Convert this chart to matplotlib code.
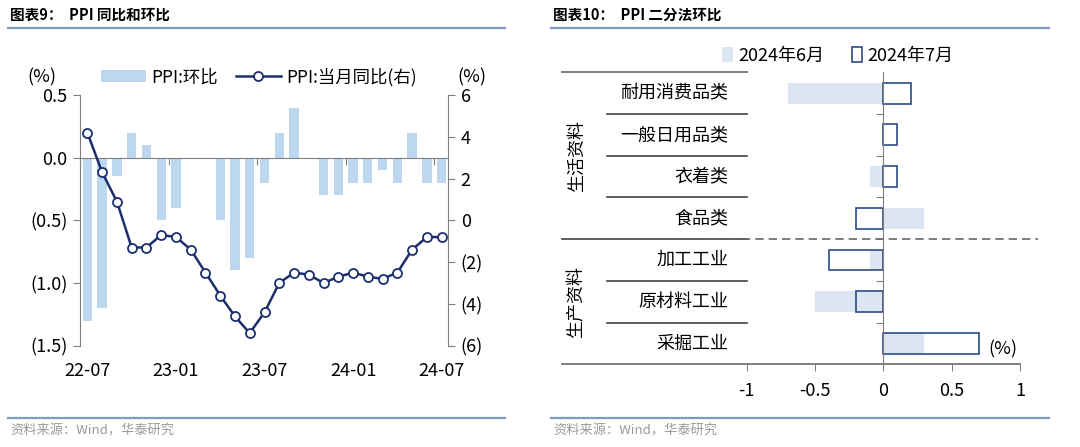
import numpy as np
import matplotlib
matplotlib.use("Agg")
import matplotlib.pyplot as plt
from matplotlib.lines import Line2D
from matplotlib.patches import Patch

plt.rcParams['font.family'] = ['Noto Sans CJK SC', 'DejaVu Sans']

# ---- data: PPI MoM / YoY ----
months = ["22-07", "22-08", "22-09", "22-10", "22-11", "22-12",
          "23-01", "23-02", "23-03", "23-04", "23-05", "23-06",
          "23-07", "23-08", "23-09", "23-10", "23-11", "23-12",
          "24-01", "24-02", "24-03", "24-04", "24-05", "24-06", "24-07"]
ppi_mom = [-1.3, -1.2, -0.15, 0.2, 0.1, -0.5, -0.4, 0.0, 0.0, -0.5, -0.9, -0.8,
           -0.2, 0.2, 0.4, 0.0, -0.3, -0.3, -0.2, -0.2, -0.1, -0.2, 0.2, -0.2, -0.2]
ppi_yoy = [4.2, 2.3, 0.9, -1.3, -1.3, -0.7, -0.8, -1.4, -2.5, -3.6, -4.6, -5.4,
           -4.4, -3.0, -2.5, -2.6, -3.0, -2.7, -2.5, -2.7, -2.8, -2.5, -1.4, -0.8, -0.8]
x_labels = ["22-07", "23-01", "23-07", "24-01", "24-07"]

# ---- data: PPI two-way split MoM ----
cats = ["耐用消费品类", "一般日用品类", "衣着类", "食品类", "加工工业", "原材料工业", "采掘工业"]
jun = [-0.7, 0.0, -0.1, 0.3, -0.1, -0.5, 0.3]
jul = [0.2, 0.1, 0.1, -0.2, -0.4, -0.2, 0.7]
groups = ["生活资料", "生产资料"]

W, H = 1080, 447
fig = plt.figure(figsize=(W / 100, H / 100), dpi=100)

def fx(px):
    return px / W

def fy(py):
    return 1 - py / H

header_col = "#7F9BBE"
bar_col = "#BDD7EE"
line_col = "#1B2F6E"
gray = "#7F7F7F"

# headers / footers
for x0, x1, title in [(8, 505, "图表9：  PPI 同比和环比"), (551, 1049, "图表10：  PPI 二分法环比")]:
    fig.text(fx(x0 + 2), fy(15), title, fontsize=10.5, fontweight="bold", va="center", ha="left")
    fig.add_artist(Line2D([fx(x0), fx(x1)], [fy(28), fy(28)], color=header_col, lw=1.6))
    fig.add_artist(Line2D([fx(x0), fx(x1)], [fy(418), fy(418)], color=header_col, lw=1.6))
    fig.text(fx(x0 + 2), fy(431), "资料来源：Wind，华泰研究", fontsize=9.5, color="#9A9A9A",
             va="center", ha="left")

# ================= left chart =================
ax = fig.add_axes([fx(80), fy(345.7), fx(448.3) - fx(80), fy(95) - fy(345.7)])
x = np.arange(len(months))
ax.bar(x, ppi_mom, width=0.63, color=bar_col, zorder=2, label="PPI:环比")
ax.set_xlim(-0.5, len(months) - 0.55)
ax.set_ylim(-1.5, 0.5)
ax.set_yticks([-1.5, -1.0, -0.5, 0.0, 0.5])
ax.set_yticklabels(["(1.5)", "(1.0)", "(0.5)", "0.0", "0.5"])
ax.spines["bottom"].set_position(("data", 0))
ax.spines["top"].set_visible(False)
ax.spines["right"].set_visible(False)
for s in ["left", "bottom"]:
    ax.spines[s].set_color(gray)
ax.set_xticks(np.arange(-0.5, len(months), 6))
ax.tick_params(axis="x", length=5, color=gray, labelbottom=False)
ax.tick_params(axis="y", length=5, color=gray, labelsize=13, pad=4)
for lab in x_labels:
    i = months.index(lab)
    ax.text(i, -0.1, lab, transform=ax.get_xaxis_transform(), ha="center", va="center", fontsize=13)

ax2 = ax.twinx()
ax2.plot(x, ppi_yoy, color=line_col, lw=1.8, marker="o", ms=6.5, mfc="white", mec=line_col,
         mew=1.3, zorder=3, label="PPI:当月同比(右)")
ax2.set_ylim(-6, 6)
ax2.set_yticks([-6, -4, -2, 0, 2, 4, 6])
ax2.set_yticklabels(["(6)", "(4)", "(2)", "0", "2", "4", "6"])
for s in ["top", "left", "bottom"]:
    ax2.spines[s].set_visible(False)
ax2.spines["right"].set_color(gray)
ax2.tick_params(axis="y", length=5, color=gray, labelsize=13, pad=4)

fig.text(fx(42), fy(77), "(%)", fontsize=13, ha="center", va="center")
fig.text(fx(472), fy(77), "(%)", fontsize=13, ha="center", va="center")
h1, l1 = ax.get_legend_handles_labels()
h2, l2 = ax2.get_legend_handles_labels()
fig.legend(h1 + h2, l1 + l2, loc="center", bbox_to_anchor=(fx(259), fy(77)), ncol=2,
           frameon=False, fontsize=12.5, handlelength=2.6, handleheight=0.7,
           handletextpad=0.3, columnspacing=1.0, borderaxespad=0)

# ================= right chart =================
bx = fig.add_axes([fx(746.7), fy(364.3), fx(1020) - fx(746.7), fy(72.3) - fy(364.3)])
y = np.arange(len(cats))
light = "#DCE6F2"
dark = "#2F4A8A"
bx.barh(y, jun, height=0.5, color=light, zorder=1, label="2024年6月")
bx.barh(y, jul, height=0.5, facecolor="none", edgecolor=dark, lw=1.2, zorder=2, label="2024年7月")
bx.set_xlim(-1, 1)
bx.set_ylim(len(cats) - 0.5, -0.5)
bx.set_xticks([-1, -0.5, 0, 0.5, 1])
bx.set_xticklabels(["-1", "-0.5", "0", "0.5", "1"])
bx.tick_params(axis="x", length=5, color=gray, labelsize=13, pad=8)
bx.spines["left"].set_position(("data", 0))
bx.spines["top"].set_visible(False)
bx.spines["right"].set_visible(False)
bx.spines["left"].set_color(gray)
bx.spines["bottom"].set_visible(False)
bx.set_yticks(np.arange(0.5, len(cats) - 1, 1))
bx.set_yticklabels([])
bx.tick_params(axis="y", length=5, color=gray)

tr = bx.get_yaxis_transform()
lx0, lx1, lx2 = -0.676, -0.512, 0.0
bx.plot([lx0, 1.0], [len(cats) - 0.5] * 2, color=gray, lw=1.4, transform=tr, clip_on=False)
bx.plot([lx0, lx2], [-0.5, -0.5], color=gray, lw=1.4, transform=tr, clip_on=False)
for b in np.arange(0.5, len(cats) - 1, 1):
    start = lx0 if b == 3.5 else lx1
    bx.plot([start, lx2], [b, b], color="#444444", lw=1.2, transform=tr, clip_on=False)
bx.plot([-0.165, 1.066], [3.5, 3.5], color="#666666", lw=1.2, ls=(0, (5, 3)), transform=tr,
        clip_on=False)
for i, c in enumerate(cats):
    bx.text(-0.068, i, c, transform=tr, ha="right", va="center", fontsize=13)
bx.text(-0.622, 1.5, groups[0], transform=tr, ha="center", va="center", rotation=90, fontsize=13)
bx.text(-0.622, 5.0, groups[1], transform=tr, ha="center", va="center", rotation=90, fontsize=13)
bx.text(0.77, 6.15, "(%)", ha="left", va="center", fontsize=13, clip_on=False)

handles = [Patch(facecolor=light, edgecolor="none"), Patch(facecolor="none", edgecolor=dark, lw=1.2)]
fig.legend(handles, ["2024年6月", "2024年7月"], loc="center", bbox_to_anchor=(fx(838), fy(56)),
           ncol=2, frameon=False, fontsize=13, handlelength=0.6, handleheight=0.9,
           handletextpad=0.3, columnspacing=1.5, borderaxespad=0)

fig.savefig("out.png", dpi=100)
